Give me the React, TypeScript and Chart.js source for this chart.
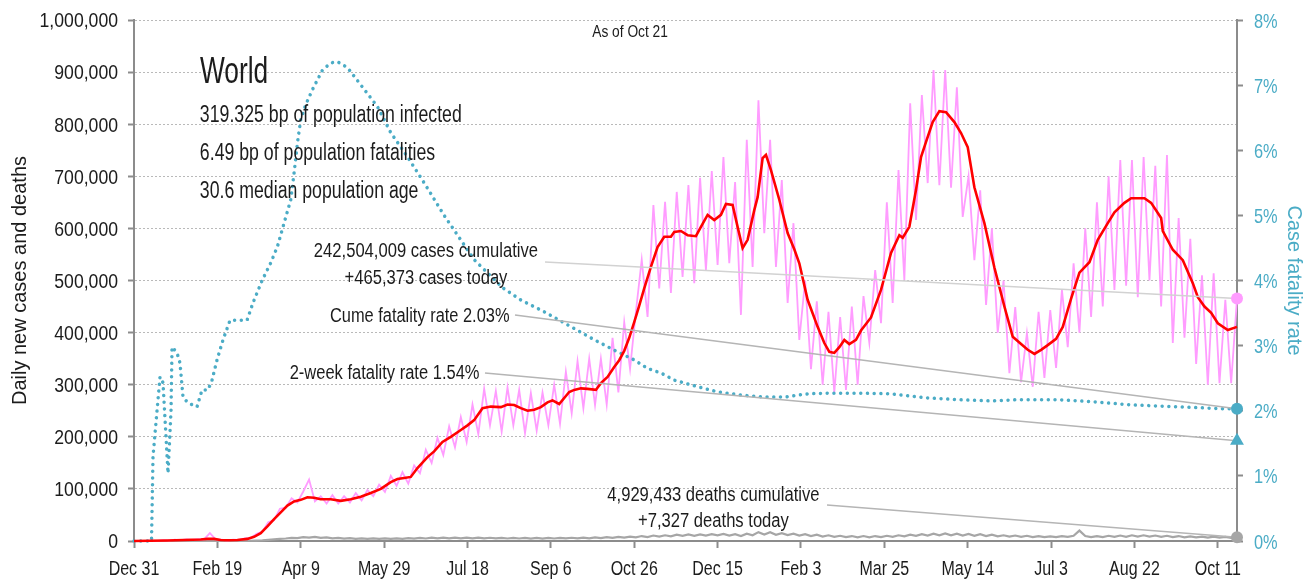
import React, { useEffect, useRef } from "react";
import { Chart, registerables } from "chart.js";

Chart.register(...registerables);

const SANS = "'Liberation Sans', Arial, sans-serif";

// ---------- data ----------
// x axis: days since Dec 31, 2019
const xTickDays = [0, 50, 100, 150, 200, 250, 300, 350, 400, 450, 500, 550, 600, 650];
const xTickLabels = ["Dec 31", "Feb 19", "Apr 9", "May 29", "Jul 18", "Sep 6", "Oct 26", "Dec 15", "Feb 3", "Mar 25", "May 14", "Jul 3", "Aug 22", "Oct 11"];
const lastDay = 661.5;
const halfWeek = 3.5; // spacing (days) of the daily-series samples below

// daily new cases, thousands (sampled every half week: weekly highs and lows)
const dailyCasesK = [
  0, 0, 0, 0.5, 0.3, 1.5, 0.8, 2.5, 1.8, 3,
  2, 3.5, 3, 15, 3, 2.5, 1, 2.5, 2, 5,
  6, 14, 18, 36, 40, 62, 64, 82, 74, 95,
  118, 76, 86, 72, 88, 72, 86, 74, 92, 78,
  98, 86, 108, 94, 125, 106, 132, 110, 145, 130,
  175, 150, 198, 165, 220, 180, 238, 190, 262, 205,
  292, 222, 288, 210, 295, 222, 290, 207, 284, 212,
  285, 222, 300, 225, 325, 245, 345, 255, 350, 261,
  350, 262, 390, 285, 420, 330, 440, 540, 430, 645,
  485, 651, 476, 670, 507, 683, 495, 697, 520, 710,
  530, 737, 533, 689, 434, 770, 526, 846, 591, 770,
  526, 693, 457, 610, 386, 500, 330, 460, 300, 440,
  285, 430, 290, 450, 300, 470, 380, 520, 418, 650,
  457, 712, 501, 840, 616, 856, 687, 904, 683, 904,
  678, 871, 622, 700, 539, 673, 453, 600, 400, 500,
  322, 449, 305, 399, 296, 440, 313, 443, 332, 482,
  372, 533, 400, 600, 430, 650, 450, 700, 482, 731,
  490, 731, 468, 737, 500, 720, 450, 741, 380, 620,
  390, 580, 340, 510, 300, 514, 303, 463, 303, 465.373,
];

// daily new deaths, thousands (same half-week sampling)
const dailyDeathsK = [
  0, 0, 0, 0, 0, 0, 0, 0, 0.1, 0.1,
  0.1, 0.1, 0.1, 0.2, 0.1, 0.1, 0.1, 0.1, 0.2, 0.3,
  0.5, 0.8, 1.2, 2, 3, 4, 4.8, 6, 5.5, 7.5,
  6.5, 8, 6, 7, 5, 6, 4.5, 5.5, 4.2, 5,
  4, 5, 4, 5, 4, 5, 4.2, 5.5, 4.5, 6,
  4.8, 6.3, 5, 6.5, 5.2, 6.5, 5, 6.4, 5, 6.3,
  5, 6.2, 5, 6, 4.8, 6, 4.8, 6, 4.5, 5.8,
  4.5, 5.8, 4.8, 6, 5, 6.2, 5, 6.5, 5.2, 7,
  5.5, 7.5, 6, 8, 6.5, 8.5, 7, 9.5, 7.5, 10.5,
  8.5, 11, 9, 12, 10, 12.5, 10, 12.5, 10.5, 13,
  11, 13.5, 10.5, 13, 9.5, 14, 11, 17, 12.5, 17,
  12, 15, 11.5, 14, 10.5, 13, 9.5, 12, 8.5, 11,
  8, 10, 7.5, 9.5, 7, 9.5, 7, 9.5, 7.5, 10,
  8, 11, 9, 12, 10, 13, 10.5, 14, 11, 14.5,
  11, 14, 10.5, 13.5, 10, 13, 9.5, 12, 9, 11,
  8.5, 10.5, 8, 10, 7.5, 9.5, 7.5, 9, 7.5, 9.5,
  8, 10, 20, 9.5, 7.5, 9.5, 7.5, 10, 8, 10.5,
  8, 11, 8.5, 11, 8.5, 10.5, 8, 10, 7.5, 9.5,
  7, 9, 7, 8.5, 6.5, 8.5, 6.5, 8, 6, 7.327,
];

// 7-day average of new cases, [day, thousands]
const avgCasesK: [number, number][] = [
  [0, 0], [10, 0.5], [20, 1], [30, 2], [40, 3], [44, 4], [48, 4], [52, 2], [56, 1.5], [62, 2],
  [68, 4], [72, 8], [76, 15], [80, 28], [84, 42], [88, 55], [92, 68], [96, 76], [100, 79], [104, 84],
  [108, 83], [112, 80], [118, 80], [124, 77], [130, 80], [136, 85], [142, 92], [148, 100], [154, 113], [158, 119],
  [162, 121], [166, 123], [170, 140], [176, 161], [180, 172], [185, 190], [190, 200], [196, 213], [200, 222], [204, 232],
  [209, 255], [214, 258], [220, 257], [224, 262], [228, 261], [232, 255], [236, 250], [240, 252], [244, 257], [248, 266],
  [251, 270], [255, 263], [261, 286], [264, 290], [268, 293], [272, 292], [277, 290], [280, 303], [284, 315], [288, 334],
  [291, 347], [294, 365], [297, 390], [300, 420], [303, 452], [306, 485], [310, 526], [314, 564], [318, 584], [322, 584],
  [324, 593], [328, 595], [332, 587], [337, 585], [340, 603], [344, 626], [348, 616], [352, 626], [355, 647], [359, 645],
  [362, 603], [365, 562], [368, 578], [372, 635], [374, 660], [377, 735], [379, 741], [382, 712], [387, 655], [392, 591],
  [396, 560], [399, 533], [404, 463], [410, 411], [414, 380], [417, 363], [420, 361], [423, 372], [426, 386], [429, 378],
  [433, 386], [436, 404], [442, 429], [448, 482], [454, 553], [459, 587], [461, 582], [465, 603], [469, 674], [472, 737],
  [475, 766], [479, 804], [483, 825], [487, 823], [492, 804], [496, 783], [500, 756], [504, 679], [510, 610], [516, 525],
  [522, 450], [527, 392], [532, 378], [536, 367], [540, 359], [544, 367], [548, 376], [553, 388], [557, 411], [562, 465],
  [567, 515], [573, 535], [578, 578], [584, 610], [588, 631], [594, 649], [598, 658], [606, 658], [610, 649], [616, 620],
  [617, 595], [623, 559], [629, 539], [635, 495], [638, 468], [642, 450], [646, 438], [650, 418], [656, 405], [661.5, 411],
];

// cumulative case fatality rate, [day, %]
const cumeFatalityPct: [number, number][] = [
  [0, 0], [10.5, 0], [11.4, 1.3], [13.8, 2.0], [15.6, 2.52], [17.4, 2.43], [19.2, 1.6], [20.4, 1.04], [22.2, 2.0], [22.8, 2.98],
  [25.8, 2.89], [27.6, 2.73], [29.4, 2.21], [32.4, 2.12], [37.8, 2.06], [40.8, 2.32], [44.4, 2.32], [46.8, 2.47], [49.8, 2.78], [53.4, 3.09],
  [57.6, 3.39], [67.8, 3.39], [71.4, 3.66], [77, 4.01], [82, 4.27], [86, 4.52], [90, 4.88], [94, 5.24], [96, 5.65], [98, 6.11],
  [100, 6.47], [103, 6.7], [107, 6.93], [113, 7.23], [118, 7.34], [122, 7.36], [128, 7.27], [137, 6.97], [146, 6.67], [154, 6.27],
  [164, 5.9], [174, 5.5], [186, 5.0], [204, 4.32], [221, 3.89], [232, 3.7], [246, 3.52], [260, 3.32], [276, 3.09], [288, 2.93],
  [300, 2.78], [308, 2.65], [316, 2.58], [324, 2.47], [338, 2.37], [350, 2.29], [364, 2.24], [378, 2.21], [390, 2.21], [404, 2.26],
  [416, 2.27], [434, 2.27], [454, 2.26], [474, 2.2], [494, 2.17], [514, 2.15], [530, 2.17], [554, 2.17], [574, 2.14], [598, 2.09],
  [626, 2.06], [654, 2.03], [661.5, 2.03],
];

const twoWeekFatalityPct = 1.54;

// ---------- text ----------
const asOfLabel = "As of Oct 21";
const regionTitle = "World";
const regionFacts = ["319.325 bp of population infected", "6.49 bp of population fatalities", "30.6 median population age"];
const casesLabel = ["242,504,009 cases cumulative", "+465,373 cases today"];
const cumeLabel = "Cume fatality rate 2.03%";
const twoWeekLabel = "2-week fatality rate 1.54%";
const deathsLabel = ["4,929,433 deaths cumulative", "+7,327 deaths today"];

// label anchors in data units: day on x, thousands on left axis
const layoutAnchors = {
  asOf: { day: 297.5, k: 979 },
  title: { day: 39.6, k: 904.6 },
  facts: { day: 39.5, k: [820.9, 747.2, 673.7] },
  cases: { day: 175.1, k: [558.5, 506.7], from: [246.5, 535.5] },
  cume: { day: 225.2, k: 433.8, from: [228.5, 433.8] },
  twoWeek: { day: 207.2, k: 324.4, from: [210.5, 322.5] },
  deaths: { day: 347.5, k: [90.8, 40.9], from: [415.6, 69.1] },
};

const TEXT = "#1c1c1c";
const TEAL = "#4bacc6";
const AXIS = "#8c8c8c";

// condensed text: regular sans squeezed horizontally, centred vertically on yCenter
function condensedText(ctx: CanvasRenderingContext2D, text: string, x: number, yCenter: number, align: CanvasTextAlign, size: number, sx: number, color: string) {
  ctx.save();
  ctx.font = `normal ${size}px ${SANS}`;
  ctx.fillStyle = color;
  ctx.textAlign = align;
  ctx.textBaseline = "alphabetic";
  ctx.translate(x, yCenter + size * 0.358);
  ctx.scale(sx, 1);
  ctx.fillText(text, 0, 0);
  ctx.restore();
}

function drawConnectors(chart: any) {
  const { ctx, scales } = chart;
  const x = scales.x, y = scales.y, y1 = scales.y1;
  const endX = x.getPixelForValue(lastDay);
  const lastCases = dailyCasesK[dailyCasesK.length - 1];
  const lastDeaths = dailyDeathsK[dailyDeathsK.length - 1];
  const lastCume = cumeFatalityPct[cumeFatalityPct.length - 1][1];
  const A = layoutAnchors;
  const lines = [
    { from: A.cases.from, toY: y.getPixelForValue(lastCases), color: "#d2d2d2" },
    { from: A.cume.from, toY: y1.getPixelForValue(lastCume), color: "#b5b5b5" },
    { from: A.twoWeek.from, toY: y1.getPixelForValue(twoWeekFatalityPct), color: "#b5b5b5" },
    { from: A.deaths.from, toY: y.getPixelForValue(lastDeaths), color: "#b5b5b5" },
  ];
  ctx.save();
  ctx.lineWidth = 1.6;
  for (const l of lines) {
    ctx.strokeStyle = l.color;
    ctx.beginPath();
    ctx.moveTo(x.getPixelForValue(l.from[0]), y.getPixelForValue(l.from[1]));
    ctx.lineTo(endX, l.toY);
    ctx.stroke();
  }
  ctx.restore();
}

function drawTickLabels(chart: any) {
  const { ctx, scales } = chart;
  const x = scales.x, y = scales.y, y1 = scales.y1;
  y.ticks.forEach((t: any) => {
    const label = (Number(t.value) * 1000).toLocaleString("en-US");
    condensedText(ctx, label, y.right - 16, y.getPixelForValue(t.value), "right", 20.5, 0.86, TEXT);
  });
  y1.ticks.forEach((t: any) => {
    condensedText(ctx, `${t.value}%`, y1.left + 17, y1.getPixelForValue(t.value), "left", 21, 0.78, TEAL);
  });
  x.ticks.forEach((t: any) => {
    const i = xTickDays.indexOf(Number(t.value));
    if (i < 0) return;
    condensedText(ctx, xTickLabels[i], x.getPixelForValue(t.value), x.top + 26.5, "center", 20.5, 0.78, TEXT);
  });
}

function drawLabels(chart: any) {
  const { ctx, scales } = chart;
  const x = scales.x, y = scales.y;
  const A = layoutAnchors;
  const put = (text: string, day: number, k: number, align: CanvasTextAlign, size: number, sx: number) => {
    condensedText(ctx, text, x.getPixelForValue(day), y.getPixelForValue(k), align, size, sx, TEXT);
  };
  put(asOfLabel, A.asOf.day, A.asOf.k, "center", 16, 0.86);
  put(regionTitle, A.title.day, A.title.k, "left", 36, 0.73);
  regionFacts.forEach((t, i) => put(t, A.facts.day, A.facts.k[i], "left", 23, 0.77));
  casesLabel.forEach((t, i) => put(t, A.cases.day, A.cases.k[i], "center", 20, 0.83));
  put(cumeLabel, A.cume.day, A.cume.k, "right", 20, 0.82);
  put(twoWeekLabel, A.twoWeek.day, A.twoWeek.k, "right", 20, 0.825);
  deathsLabel.forEach((t, i) => put(t, A.deaths.day, A.deaths.k[i], "center", 20, 0.83));
}

const annotationPlugin = {
  id: "annotationPlugin",
  beforeDatasetsDraw(chart: any) {
    chart.$connectorsDrawn = false;
  },
  beforeDatasetDraw(chart: any, args: any) {
    const ds: any = chart.data.datasets[args.index];
    if (ds.isMarker && !chart.$connectorsDrawn) {
      chart.$connectorsDrawn = true;
      drawConnectors(chart);
    }
  },
  afterDatasetsDraw(chart: any) {
    if (!chart.$connectorsDrawn) drawConnectors(chart);
  },
  afterDraw(chart: any) {
    drawTickLabels(chart);
    drawLabels(chart);
  },
};

export default function App() {
  const canvasRef = useRef<HTMLCanvasElement | null>(null);

  useEffect(() => {
    document.body.style.margin = "0";
    const canvas = canvasRef.current;
    if (!canvas) return;

    const series = (arr: number[]) => arr.map((v, i) => ({ x: i * halfWeek, y: v }));
    const pairs = (arr: [number, number][]) => arr.map(([d, v]) => ({ x: d, y: v }));
    const lastCases = dailyCasesK[dailyCasesK.length - 1];
    const lastDeaths = dailyDeathsK[dailyDeathsK.length - 1];
    const lastCume = cumeFatalityPct[cumeFatalityPct.length - 1][1];

    const marker = (yAxisID: string, value: number, color: string, style: string, radius: number) => ({
      type: "line",
      isMarker: true,
      data: [{ x: lastDay, y: value }],
      yAxisID,
      showLine: false,
      pointRadius: radius,
      pointStyle: style,
      pointBackgroundColor: color,
      pointBorderColor: color,
      pointBorderWidth: 0,
      order: 0,
      clip: false,
    });

    const chart = new Chart(canvas, {
      type: "line",
      data: {
        datasets: [
          {
            label: "Daily deaths",
            data: series(dailyDeathsK),
            yAxisID: "y",
            borderColor: "#a6a6a6",
            borderWidth: 2.2,
            pointRadius: 0,
            order: 5,
            clip: false,
          },
          {
            label: "Daily cases",
            data: series(dailyCasesK),
            yAxisID: "y",
            borderColor: "#ff9cff",
            borderWidth: 1.8,
            pointRadius: 0,
            order: 4,
            clip: false,
          },
          {
            label: "Cume fatality rate",
            data: pairs(cumeFatalityPct),
            yAxisID: "y1",
            borderColor: TEAL,
            borderWidth: 3.5,
            borderDash: [0.01, 6.7],
            borderCapStyle: "round",
            pointRadius: 0,
            order: 3,
            clip: false,
          },
          {
            label: "7-day average",
            data: pairs(avgCasesK),
            yAxisID: "y",
            borderColor: "#ff0000",
            borderWidth: 2.6,
            pointRadius: 0,
            order: 2,
            clip: false,
          },
          marker("y", lastCases, "#ff9cff", "circle", 6),
          marker("y1", lastCume, TEAL, "circle", 6),
          marker("y1", twoWeekFatalityPct, TEAL, "triangle", 8),
          marker("y", lastDeaths, "#a6a6a6", "circle", 6),
        ] as any,
      },
      options: {
        animation: false,
        responsive: false,
        devicePixelRatio: 1,
        layout: { padding: { top: 20, left: 0, right: 0, bottom: 0 } },
        plugins: {
          legend: { display: false },
          tooltip: { enabled: false },
        },
        scales: {
          x: {
            type: "linear",
            min: 0,
            max: lastDay,
            afterBuildTicks: (s: any) => {
              s.ticks = xTickDays.map((v) => ({ value: v }));
            },
            afterFit: (s: any) => {
              s.height = 40;
            },
            ticks: { display: false, autoSkip: false, maxRotation: 0 },
            grid: { drawOnChartArea: false, drawTicks: true, tickLength: 7, tickColor: AXIS, tickWidth: 2 },
            border: { color: AXIS, width: 2 },
          },
          y: {
            position: "left",
            min: 0,
            max: 1000,
            afterFit: (s: any) => {
              s.width = 134;
            },
            ticks: { display: false, stepSize: 100 },
            grid: { color: "#b9b9b9", lineWidth: 1, tickLength: 6, tickColor: AXIS, tickWidth: 2 },
            border: { color: AXIS, width: 2, dash: [2, 2] },
            title: {
              display: true,
              text: "Daily new cases and deaths",
              color: TEXT,
              font: { family: SANS, size: 20 },
              padding: { top: 8, bottom: 0 },
            },
          },
          y1: {
            position: "right",
            min: 0,
            max: 8,
            afterFit: (s: any) => {
              s.width = 74;
            },
            ticks: { display: false, stepSize: 1 },
            grid: { drawOnChartArea: false, tickLength: 6, tickColor: AXIS, tickWidth: 2 },
            border: { color: AXIS, width: 2 },
            title: {
              display: true,
              text: "Case fatality rate",
              color: TEAL,
              font: { family: SANS, size: 20 },
              padding: { top: 5.5, bottom: 0 },
            },
          },
        },
      } as any,
      plugins: [annotationPlugin as any],
    });

    return () => chart.destroy();
  }, []);

  return (
    <div style={{ width: 1311, height: 581, position: "relative" }}>
      <canvas ref={canvasRef} width={1311} height={581} style={{ display: "block", width: 1311, height: 581 }} />
    </div>
  );
}
